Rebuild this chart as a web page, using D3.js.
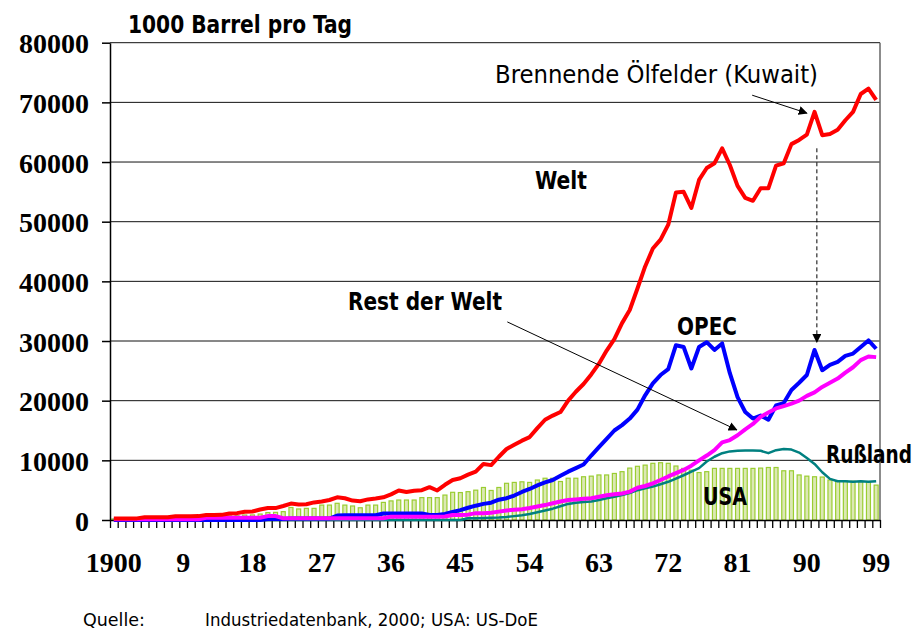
<!DOCTYPE html>
<html>
<head>
<meta charset="utf-8">
<script src="https://cdn.jsdelivr.net/npm/d3@7"></script>
<style>
  body { margin: 0; background: #fff; }
  .ytick text, .xlab { font-family: "Liberation Serif", "Times New Roman", serif; font-weight: bold; font-size: 28px; fill: #000; }
  .lbl { font-family: "DejaVu Sans Condensed", "DejaVu Sans", sans-serif; font-size: 24px; fill: #000; }
  .bold { font-weight: bold; }
  .foot { font-family: "DejaVu Sans Condensed", "DejaVu Sans", sans-serif; font-size: 17px; fill: #000; }
</style>
</head>
<body>
<div id="chart"></div>
<script>
var svgWidth = 920;
var svgHeight = 633;

// plot area edges (Excel style chart)
var margin = { top: 42.7, right: 40, bottom: 113, left: 110 };
var width = svgWidth - margin.left - margin.right;
var height = svgHeight - margin.top - margin.bottom;

// ---- data: 1000 barrel per day, 1900..1999 ----
var years = d3.range(1900, 2000);

var welt = [
  250, 250, 260, 270, 450, 450, 460, 470, 620, 630,
  640, 650, 840, 850, 860, 1100, 1150, 1380, 1420, 1750,
  2000, 2000, 2350, 2750, 2600, 2650, 2950, 3100, 3350, 3800,
  3650, 3250, 3150, 3450, 3600, 3800, 4300, 4950, 4700, 4900,
  5000, 5500, 4950, 5900, 6700, 7000, 7600, 8100, 9400, 9200,
  10600, 11900, 12600, 13300, 13900, 15400, 16800, 17500, 18100, 20000,
  21500, 22800, 24400, 26200, 28400, 30300, 33000, 35200, 38800, 42500,
  45500, 47000, 49500, 54900, 55000, 52300, 57000, 59000, 59800, 62300,
  59500, 56000, 54000, 53500, 55600, 55600, 59400, 59800, 63000, 63700,
  64600, 68400, 64500, 64700, 65400, 67000, 68400, 71400, 72300, 70400
];

var opec = [
  0, 0, 0, 0, 0, 0, 0, 0, 0, 0,
  0, 0, 0, 0, 0, 0, 0, 0, 0, 0,
  150, 150, 150, 250, 250, 250, 250, 250, 250, 750,
  800, 800, 800, 800, 800, 1100, 1100, 1100, 1100, 1100,
  1100, 850, 850, 1000, 1350, 1650, 2050, 2400, 2700, 2900,
  3400, 3650, 4100, 4700, 5200, 5800, 6300, 6700, 7400, 8100,
  8700, 9300, 10800, 12200, 13600, 15000, 15900, 17000, 18500, 20900,
  22900, 24300, 25300, 29300, 29000, 25400, 29000, 29800, 28500, 29600,
  24600, 20600, 18100, 17000, 17500, 16800, 19200, 19600, 21800, 23000,
  24300, 28500, 25100, 26000, 26500, 27500, 27900, 29000, 30100, 28700
];

var restDerWelt = [
  120, 120, 120, 120, 120, 120, 120, 120, 120, 120,
  120, 120, 390, 390, 390, 390, 390, 390, 390, 390,
  650, 650, 300, 280, 280, 280, 280, 280, 280, 280,
  280, 280, 280, 280, 280, 300, 560, 560, 560, 560,
  560, 560, 560, 600, 850, 850, 900, 1150, 1150, 1200,
  1400, 1600, 1700, 1800, 2000, 2250, 2500, 2800, 3100, 3350,
  3450, 3550, 3650, 3900, 4150, 4300, 4450, 4750, 5400, 5700,
  6150, 6700, 7300, 7850, 8400, 9100, 10000, 10800, 11700, 13000,
  13400, 14200, 15200, 16100, 17300, 18000, 18700, 19100, 19500, 20000,
  20800, 21400, 22300, 23000, 23700, 24700, 25600, 26800, 27400, 27300
];

var russland = [
  0, 0, 0, 0, 0, 0, 0, 0, 0, 0,
  0, 0, 0, 0, 0, 0, 0, 0, 0, 0,
  0, 0, 0, 0, 0, 0, 0, 0, 0, 0,
  0, 0, 0, 0, 0, 0, 0, 0, 0, 0,
  0, 0, 0, 0, 0, 0, 280, 280, 350, 380,
  420, 500, 650, 800, 1000, 1300, 1600, 1900, 2300, 2700,
  2900, 3000, 3100, 3350, 3650, 3900, 4200, 4500, 5000, 5300,
  5600, 6000, 6400, 6950, 7500, 8100, 8700, 9800, 10600, 11200,
  11500, 11600, 11650, 11650, 11600, 11200, 11700, 11900, 11800, 11300,
  10400, 9400, 8000, 6900, 6500, 6500, 6400, 6500, 6400, 6500
];

var usa = [
  170, 190, 240, 270, 320, 370, 350, 450, 490, 500,
  570, 600, 610, 680, 730, 700, 720, 840, 850, 1000,
  1250, 1280, 1400, 2100, 1850, 1950, 1950, 2500, 2500, 2800,
  2500, 2350, 2050, 2500, 2500, 2950, 3200, 3350, 3350, 3350,
  3750, 3750, 3750, 4180, 4640, 4600, 4750, 5000, 5450, 4950,
  5450, 6150, 6300, 6400, 6300, 6700, 7000, 7000, 6450, 7000,
  7000, 7250, 7350, 7550, 7550, 7800, 8100, 8700, 9000, 9200,
  9500, 9600, 9500, 9050, 8650, 8350, 7950, 8100, 8650, 8650,
  8650, 8650, 8650, 8650, 8700, 8800, 8800, 8250, 8250, 7550,
  7350, 7250, 7200, 6700, 6550, 6550, 6500, 6450, 6400, 5850
];

var yTicks = [0, 10000, 20000, 30000, 40000, 50000, 60000, 70000, 80000];
var xLabelYears = [1900, 1909, 1918, 1927, 1936, 1945, 1954, 1963, 1972, 1981, 1990, 1999];

var svg = d3.select("#chart")
  .append("svg")
  .attr("width", svgWidth)
  .attr("height", svgHeight);

var defs = svg.append("defs");
defs.append("marker")
  .attr("id", "arrow")
  .attr("viewBox", "0 0 10 10")
  .attr("refX", 9).attr("refY", 5)
  .attr("markerWidth", 9).attr("markerHeight", 9)
  .attr("markerUnits", "userSpaceOnUse")
  .attr("orient", "auto")
  .append("path")
  .attr("d", "M0,0 L10,5 L0,10 z")
  .attr("fill", "#000");

var chart = svg.append("g")
  .attr("transform", `translate(${margin.left}, ${margin.top})`);

// scales: years as categories, one slot per year
var xScale = d3.scaleLinear().domain([1899.5, 1999.5]).range([0, width]);
var yScale = d3.scaleLinear().domain([0, 80000]).range([height, 0]);

// gridlines
chart.append("g").selectAll("line")
  .data(yTicks.slice(1))
  .enter().append("line")
  .attr("x1", 0).attr("x2", width)
  .attr("y1", d => yScale(d)).attr("y2", d => yScale(d))
  .attr("stroke", "#111").attr("stroke-width", 1);

// right border
chart.append("line")
  .attr("x1", width).attr("x2", width)
  .attr("y1", 0).attr("y2", height)
  .attr("stroke", "#666").attr("stroke-width", 1.5);

// USA bars
chart.append("g").selectAll("rect")
  .data(years)
  .enter().append("rect")
  .attr("x", (d) => xScale(d) - 2)
  .attr("y", (d, i) => yScale(usa[i]))
  .attr("width", 4)
  .attr("height", (d, i) => height - yScale(usa[i]))
  .attr("fill", "#dce8b4")
  .attr("stroke", "#9acd32")
  .attr("stroke-width", 1.2);

// y axis
var leftAxis = d3.axisLeft(yScale)
  .tickValues(yTicks)
  .tickSize(8)
  .tickSizeOuter(0)
  .tickPadding(13)
  .tickFormat(d3.format("d"));

var yAxisG = chart.append("g").attr("class", "ytick").call(leftAxis);
yAxisG.selectAll("text").attr("dy", "0.36em");
yAxisG.selectAll("line, path").attr("stroke", "#000").attr("stroke-width", 1.5);

// x axis: ticks between the years
var bottomAxis = d3.axisBottom(xScale)
  .tickValues(d3.range(1899.5, 2000, 1))
  .tickSize(8)
  .tickSizeOuter(0)
  .tickFormat("");

var xAxisG = chart.append("g")
  .attr("transform", `translate(0, ${height})`)
  .call(bottomAxis);
xAxisG.selectAll("line, path").attr("stroke", "#000").attr("stroke-width", 1.3);

chart.append("g").selectAll("text")
  .data(xLabelYears)
  .enter().append("text")
  .attr("class", "xlab")
  .attr("x", d => xScale(d))
  .attr("y", height + 52)
  .attr("text-anchor", "middle")
  .text(d => d === 1900 ? "1900" : String(d - 1900));

// lines
var series = [
  { values: russland, color: "#008080", w: 2.5 },
  { values: opec, color: "#0000ff", w: 4 },
  { values: restDerWelt, color: "#ff00ff", w: 4 },
  { values: welt, color: "#ff0000", w: 4 }
];

var line = d3.line()
  .x(d => xScale(d[0]))
  .y(d => yScale(d[1]));

series.forEach(function(s) {
  chart.append("path")
    .datum(years.map((y, i) => [y, s.values[i]]))
    .attr("fill", "none")
    .attr("stroke", s.color)
    .attr("stroke-width", s.w)
    .attr("stroke-linejoin", "round")
    .attr("d", line);
});

// annotation arrows (in data coordinates)
function pt(yr, v) { return [xScale(yr), yScale(v)]; }

var a1 = [pt(1982.9, 71200), pt(1990.0, 68200)];
chart.append("line")
  .attr("x1", a1[0][0]).attr("y1", a1[0][1])
  .attr("x2", a1[1][0]).attr("y2", a1[1][1])
  .attr("stroke", "#000").attr("stroke-width", 1)
  .attr("marker-end", "url(#arrow)");

var a2 = [pt(1991.3, 62300), pt(1991.3, 29800)];
chart.append("line")
  .attr("x1", a2[0][0]).attr("y1", a2[0][1])
  .attr("x2", a2[1][0]).attr("y2", a2[1][1])
  .attr("stroke", "#000").attr("stroke-width", 1)
  .attr("stroke-dasharray", "4,3")
  .attr("marker-end", "url(#arrow)");

var a3 = [pt(1951.1, 33200), pt(1980.9, 15100)];
chart.append("line")
  .attr("x1", a3[0][0]).attr("y1", a3[0][1])
  .attr("x2", a3[1][0]).attr("y2", a3[1][1])
  .attr("stroke", "#000").attr("stroke-width", 1)
  .attr("marker-end", "url(#arrow)");

// labels
function label(txt, x, y, len, bold, size) {
  svg.append("text")
    .attr("class", "lbl" + (bold ? " bold" : ""))
    .attr("x", x).attr("y", y)
    .attr("textLength", len)
    .attr("lengthAdjust", "spacingAndGlyphs")
    .style("font-size", size + "px")
    .text(txt);
}

label("1000 Barrel pro Tag", 128, 33, 224, true, 24);
label("Brennende Ölfelder (Kuwait)", 495, 83, 323, false, 24);
label("Welt", 535, 189, 52, true, 24);
label("Rest der Welt", 348, 310, 154, true, 24);
label("OPEC", 677, 335, 60, true, 24);
label("Rußland", 826, 463, 86, true, 24);
label("USA", 703, 505, 44, true, 24);

svg.append("text").attr("class", "foot")
  .attr("x", 83).attr("y", 626)
  .attr("textLength", 62).attr("lengthAdjust", "spacingAndGlyphs")
  .text("Quelle:");
svg.append("text").attr("class", "foot")
  .attr("x", 205).attr("y", 626)
  .attr("textLength", 333).attr("lengthAdjust", "spacingAndGlyphs")
  .text("Industriedatenbank, 2000; USA: US-DoE");
</script>
</body>
</html>
